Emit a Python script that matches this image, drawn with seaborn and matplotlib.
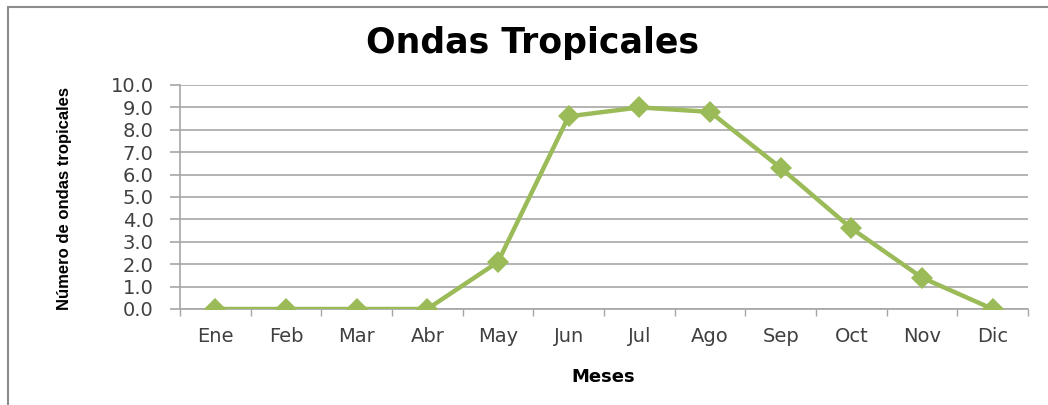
import matplotlib
matplotlib.use("Agg")
import matplotlib.pyplot as plt
from matplotlib.lines import Line2D
import seaborn as sns
import pandas as pd
import numpy as np

months = ["Ene", "Feb", "Mar", "Abr", "May", "Jun", "Jul", "Ago", "Sep", "Oct", "Nov", "Dic"]
waves = [0.0, 0.0, 0.0, 0.0, 2.1, 8.6, 9.0, 8.8, 6.3, 3.6, 1.4, 0.0]
y_ticks = [0, 1, 2, 3, 4, 5, 6, 7, 8, 9, 10]
title = "Ondas Tropicales"
xlabel = "Meses"
ylabel = "Número de ondas tropicales"

sns.set_style("white")
plt.rcParams["font.family"] = ["DejaVu Sans"]

fig = plt.figure(figsize=(10.48, 4.05), dpi=100)
ax = fig.add_axes([180/1048, 1 - 309/405, 848/1048, 224/405])

df = pd.DataFrame({"mes": months, "ondas": waves})
sns.lineplot(data=df, x="mes", y="ondas", ax=ax, sort=False, color="#9BBB59",
             linewidth=3.2, marker="D", markersize=11, markeredgewidth=0, zorder=5)

n = len(months)
ax.set_xlim(-0.5, n - 0.5)
ax.set_ylim(0, 10)
ax.set_yticks(y_ticks)
ax.set_yticklabels([f"{v:.1f}" for v in y_ticks])
ax.set_xticks(np.arange(-0.5, n, 1.0))
ax.set_xticklabels([])
ax.set_xticks(np.arange(n), minor=True)
ax.set_xticklabels(months, minor=True)
ax.tick_params(axis="x", which="minor", length=0, pad=13, labelsize=14, labelcolor="#404040")
ax.tick_params(axis="x", which="major", length=5, width=1, color="#a6a6a6", direction="out", bottom=True)
ax.tick_params(axis="y", length=7, width=1.2, color="#a6a6a6", direction="out", left=True, pad=12,
               labelsize=14, labelcolor="#404040")

ax.grid(axis="y", color="#b3b3b3", linewidth=1.4)
ax.grid(axis="x", visible=False)
for s in ["top", "right"]:
    ax.spines[s].set_visible(False)
for s in ["left", "bottom"]:
    ax.spines[s].set_color("#a6a6a6")
    ax.spines[s].set_linewidth(1.2)
ax.set_xlabel("")
ax.set_ylabel(ylabel, fontsize=12, fontweight="bold",
              family=["Liberation Sans", "DejaVu Sans"], color="black")
ax.yaxis.set_label_coords((72 - 180) / 848, (309 - 199) / 224)

fig.text(532/1048, 1 - 43/405, title, ha="center", va="center", fontsize=25, fontweight="bold", color="black")
fig.text(603/1048, 1 - 377/405, xlabel, ha="center", va="center", fontsize=13, fontweight="bold", color="black")

# chart border (left and top edges visible)
fig.add_artist(Line2D([8/1048, 8/1048], [0, 1 - 7/405], transform=fig.transFigure, color="#8c8c8c", linewidth=1.5))
fig.add_artist(Line2D([8/1048, 1], [1 - 7/405, 1 - 7/405], transform=fig.transFigure, color="#8c8c8c", linewidth=1.5))

fig.savefig("out.png", dpi=100)
